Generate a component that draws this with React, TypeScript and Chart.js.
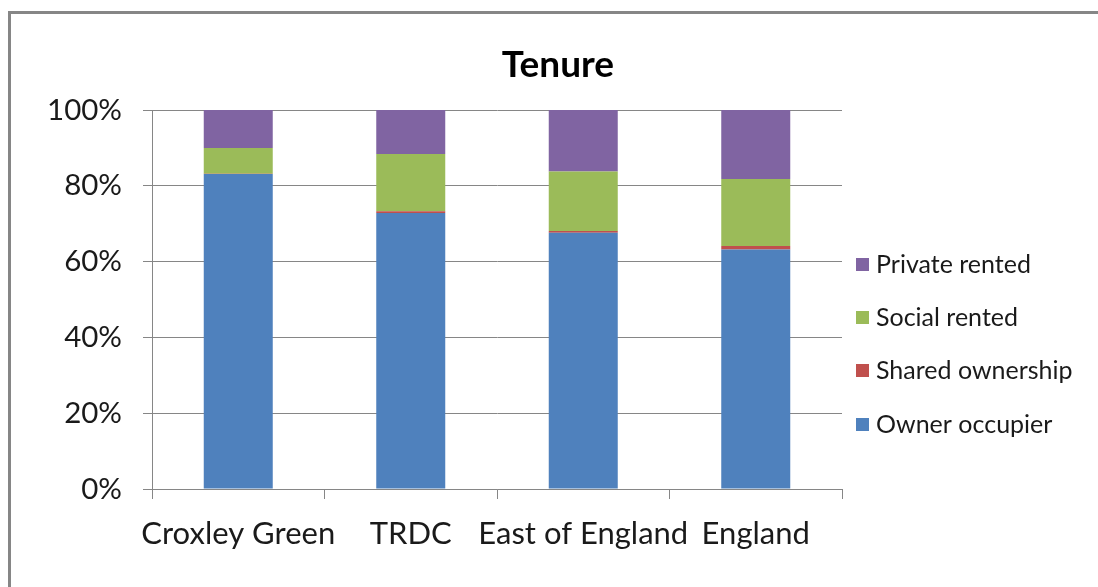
import React, { useEffect, useRef } from "react";
import { Chart, registerables } from "chart.js";

Chart.register(...registerables);

const categories = ["Croxley Green", "TRDC", "East of England", "England"];
const ownerOccupier = [83.1, 72.8, 67.6, 63.2];
const sharedOwnership = [0.1, 0.5, 0.5, 0.9];
const socialRented = [6.8, 15.1, 15.7, 17.7];
const privateRented = [10.0, 11.6, 16.2, 18.2];
const yTicks = [0, 20, 40, 60, 80, 100];
const titleText = "Tenure";

const FONT = "Lato, 'Open Sans', sans-serif";
const GRID = "#868686";
const TEXT = "#1a1a1a";

const customPlugin = {
  id: "customTitleLegend",
  afterDraw(chart: any) {
    const ctx = chart.ctx;
    ctx.save();
    // title
    ctx.fillStyle = "#000";
    ctx.font = `bold 37px ${FONT}`;
    ctx.textAlign = "center";
    ctx.textBaseline = "middle";
    ctx.fillText(titleText, 558, 65);
    // legend (reverse order)
    const ds = chart.data.datasets.slice().reverse();
    const ys = [264, 317, 370, 424];
    ctx.font = `25px ${FONT}`;
    ctx.textAlign = "left";
    ds.forEach((d: any, i: number) => {
      const y = ys[i];
      ctx.fillStyle = d.backgroundColor;
      ctx.fillRect(856, y - 6, 13, 13);
      ctx.fillStyle = TEXT;
      ctx.fillText(d.label, 876, y + 1);
    });
    ctx.restore();
  },
};

export default function App() {
  const ref = useRef<HTMLCanvasElement>(null);
  useEffect(() => {
    if (!ref.current) return;
    const chart = new Chart(ref.current, {
      type: "bar",
      data: {
        labels: categories,
        datasets: [
          { label: "Owner occupier", data: ownerOccupier, backgroundColor: "#4F81BD" },
          { label: "Shared ownership", data: sharedOwnership, backgroundColor: "#C0504D" },
          { label: "Social rented", data: socialRented, backgroundColor: "#9BBB59" },
          { label: "Private rented", data: privateRented, backgroundColor: "#8064A2" },
        ],
      },
      options: {
        responsive: false,
        animation: false,
        devicePixelRatio: 1,
        layout: { padding: { left: 0, top: 110, right: 256, bottom: 0 } },
        datasets: { bar: { barPercentage: 0.4, categoryPercentage: 1 } },
        plugins: {
          legend: { display: false },
          title: { display: false },
          tooltip: { enabled: false },
        },
        scales: {
          x: {
            stacked: true,
            afterFit: (s: any) => { s.height = 98; },
            grid: { drawOnChartArea: false, drawTicks: true, tickLength: 10, color: GRID, offset: true },
            border: { display: true, color: GRID },
            ticks: { font: { family: FONT, size: 31 }, color: TEXT, padding: 16, maxRotation: 0, autoSkip: false },
          },
          y: {
            stacked: true,
            min: 0,
            max: 100,
            afterFit: (s: any) => { s.width = 152; },
            afterBuildTicks: (s: any) => { s.ticks = yTicks.map((v) => ({ value: v })); },
            grid: { color: GRID, tickLength: 9, drawTicks: true },
            border: { display: true, color: GRID },
            ticks: {
              font: { family: FONT, size: 29.5 },
              color: TEXT,
              padding: 21,
              callback: (v: any) => v + "%",
            },
          },
        },
      },
      plugins: [customPlugin],
    });
    return () => chart.destroy();
  }, []);

  return (
    <div>
      <div
        style={{
          position: "fixed",
          left: 8,
          top: 11,
          width: 1200,
          height: 700,
          borderTop: "3px solid #868686",
          borderLeft: "3px solid #868686",
          boxSizing: "border-box",
        }}
      />
      <canvas
        ref={ref}
        width={1098}
        height={587}
        style={{ position: "fixed", left: 0, top: 0, width: 1098, height: 587 }}
      />
    </div>
  );
}
